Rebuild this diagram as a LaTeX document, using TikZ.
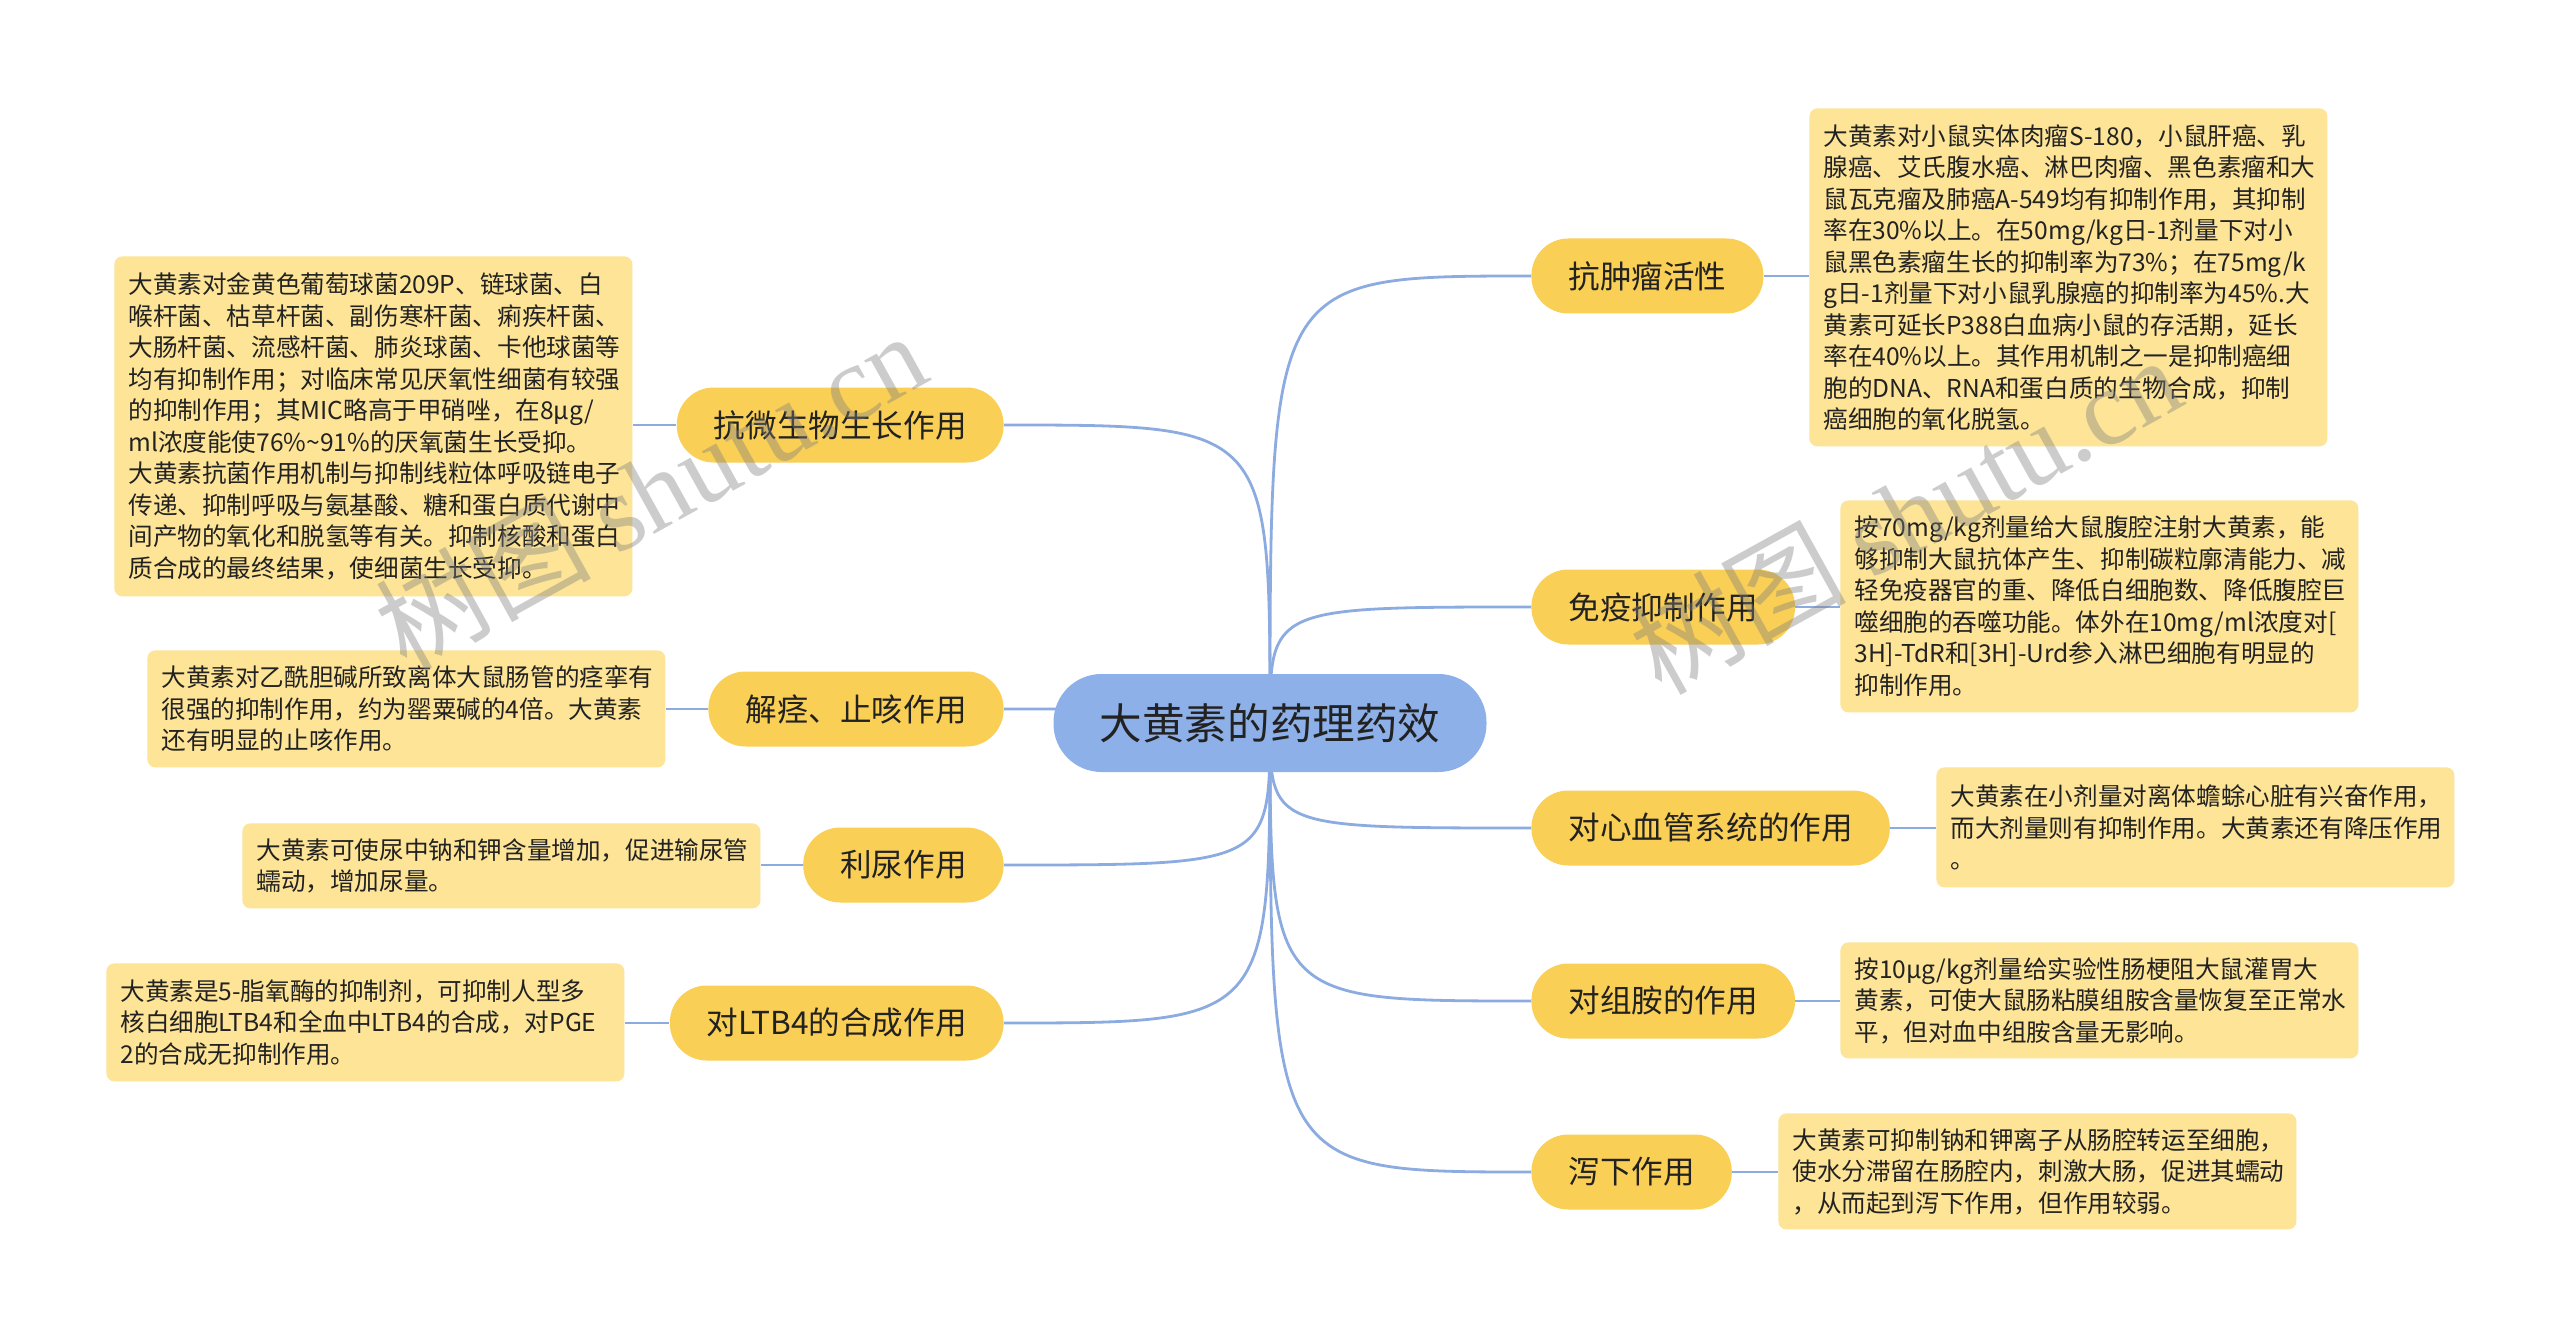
\documentclass[tikz,border=0pt]{standalone}
\usepackage{fontspec}
\setmainfont{Noto Sans CJK SC}
\newfontfamily\wmserif{Liberation Serif}
\usetikzlibrary{backgrounds}
\definecolor{linec}{RGB}{140,171,225}
\definecolor{rootc}{RGB}{142,176,233}
\definecolor{brc}{RGB}{250,207,85}
\definecolor{boxc}{RGB}{253,228,150}
\definecolor{txt}{RGB}{34,34,34}
\begin{document}
\begin{tikzpicture}[x=0.5pt,y=-0.5pt,
  root/.style={fill=rootc, rounded corners=24pt, minimum height=49pt, minimum width=216.5pt, inner xsep=0pt, inner ysep=0pt, text=txt, font=\fontsize{21.3pt}{26pt}\selectfont},
  branch/.style={fill=brc, rounded corners=18.5pt, minimum height=37.5pt, inner xsep=18.5pt, inner ysep=0pt, text=txt, font=\fontsize{15.8pt}{19pt}\selectfont},
  detail/.style={fill=boxc, rounded corners=4pt, anchor=north west, text width=245pt, inner xsep=7pt, inner ysep=0pt, align=left, text=txt, font=\fontsize{12.3pt}{15.75pt}\selectfont},
  conn/.style={draw=linec, line width=1.4pt},
  wm/.style={text=black!50, opacity=0.4, font=\fontsize{54pt}{60pt}\selectfont, inner sep=0pt}
]
\useasboundingbox (0,0) rectangle (2560,1337);

\node[root] (c) at (1270,723) {大黄素的药理药效};

\node[branch, anchor=west] (b1) at (1531,276) {抗肿瘤活性};
\node[branch, anchor=west] (b2) at (1531,607) {免疫抑制作用};
\node[branch, anchor=west] (b3) at (1531,828) {对心血管系统的作用};
\node[branch, anchor=west] (b4) at (1531,1001) {对组胺的作用};
\node[branch, anchor=west] (b5) at (1531,1172) {泻下作用};

\node[branch, anchor=east] (a1) at (1004,425) {抗微生物生长作用};
\node[branch, anchor=east] (a2) at (1004,709) {解痉、止咳作用};
\node[branch, anchor=east] (a3) at (1004,865) {利尿作用};
\node[branch, anchor=east] (a4) at (1004,1023) {对LTB4的合成作用};

\node[detail, minimum height=170pt] (l1) at (114,256) {大黄素对金黄色葡萄球菌209P、链球菌、白\\
喉杆菌、枯草杆菌、副伤寒杆菌、痢疾杆菌、\\
大肠杆菌、流感杆菌、肺炎球菌、卡他球菌等\\
均有抑制作用；对临床常见厌氧性细菌有较强\\
的抑制作用；其MIC略高于甲硝唑，在8μg/\\
ml浓度能使76\%\textasciitilde91\%的厌氧菌生长受抑。\\
大黄素抗菌作用机制与抑制线粒体呼吸链电子\\
传递、抑制呼吸与氨基酸、糖和蛋白质代谢中\\
间产物的氧化和脱氢等有关。抑制核酸和蛋白\\
质合成的最终结果，使细菌生长受抑。};

\node[detail, minimum height=58.5pt] (l2) at (147,650) {大黄素对乙酰胆碱所致离体大鼠肠管的痉挛有\\
很强的抑制作用，约为罂粟碱的4倍。大黄素\\
还有明显的止咳作用。};

\node[detail, minimum height=42.5pt] (l3) at (242,823) {大黄素可使尿中钠和钾含量增加，促进输尿管\\
蠕动，增加尿量。};

\node[detail, minimum height=59pt] (l4) at (106,963) {大黄素是5-脂氧酶的抑制剂，可抑制人型多\\
核白细胞LTB4和全血中LTB4的合成，对PGE\\
2的合成无抑制作用。};

\node[detail, minimum height=169pt] (r1) at (1809,108) {大黄素对小鼠实体肉瘤S-180，小鼠肝癌、乳\\
腺癌、艾氏腹水癌、淋巴肉瘤、黑色素瘤和大\\
鼠瓦克瘤及肺癌A-549均有抑制作用，其抑制\\
率在30\%以上。在50mg/kg日-1剂量下对小\\
鼠黑色素瘤生长的抑制率为73\%；在75mg/k\\
g日-1剂量下对小鼠乳腺癌的抑制率为45\%.大\\
黄素可延长P388白血病小鼠的存活期，延长\\
率在40\%以上。其作用机制之一是抑制癌细\\
胞的DNA、RNA和蛋白质的生物合成，抑制\\
癌细胞的氧化脱氢。};

\node[detail, minimum height=106pt] (r2) at (1840,500) {按70mg/kg剂量给大鼠腹腔注射大黄素，能\\
够抑制大鼠抗体产生、抑制碳粒廓清能力、减\\
轻免疫器官的重、降低白细胞数、降低腹腔巨\\
噬细胞的吞噬功能。体外在10mg/ml浓度对{[}\\
3H]-TdR和[3H]-Urd参入淋巴细胞有明显的\\
抑制作用。};

\node[detail, minimum height=60pt] (r3) at (1936,767) {大黄素在小剂量对离体蟾蜍心脏有兴奋作用，\\
而大剂量则有抑制作用。大黄素还有降压作用\\
。};

\node[detail, minimum height=58pt] (r4) at (1840,942) {按10μg/kg剂量给实验性肠梗阻大鼠灌胃大\\
黄素，可使大鼠肠粘膜组胺含量恢复至正常水\\
平，但对血中组胺含量无影响。};

\node[detail, minimum height=58pt] (r5) at (1778,1113) {大黄素可抑制钠和钾离子从肠腔转运至细胞，\\
使水分滞留在肠腔内，刺激大肠，促进其蠕动\\
，从而起到泻下作用，但作用较弱。};

\begin{scope}[on background layer]
\fill[white] (0,0) rectangle (2560,1337);
\foreach \b in {b1,b2,b3,b4,b5}
  \draw[conn] (c.center) .. controls (c.center |- \b.west) .. (\b.west);
\foreach \a in {a1,a2,a3,a4}
  \draw[conn] (c.center) .. controls (c.center |- \a.east) .. (\a.east);
\draw[conn] (b1.east) -- (b1.east -| r1.west);
\draw[conn] (b2.east) -- (b2.east -| r2.west);
\draw[conn] (b3.east) -- (b3.east -| r3.west);
\draw[conn] (b4.east) -- (b4.east -| r4.west);
\draw[conn] (b5.east) -- (b5.east -| r5.west);
\draw[conn] (a1.west) -- (a1.west -| l1.east);
\draw[conn] (a2.west) -- (a2.west -| l2.east);
\draw[conn] (a3.west) -- (a3.west -| l3.east);
\draw[conn] (a4.west) -- (a4.west -| l4.east);
\end{scope}

\node[wm, rotate=29] (w1) at (650,490) {树图 {\wmserif shutu.cn}};
\node[wm, rotate=29] (w2) at (1905,514) {树图 {\wmserif shutu.cn}};
\end{tikzpicture}
\end{document}
